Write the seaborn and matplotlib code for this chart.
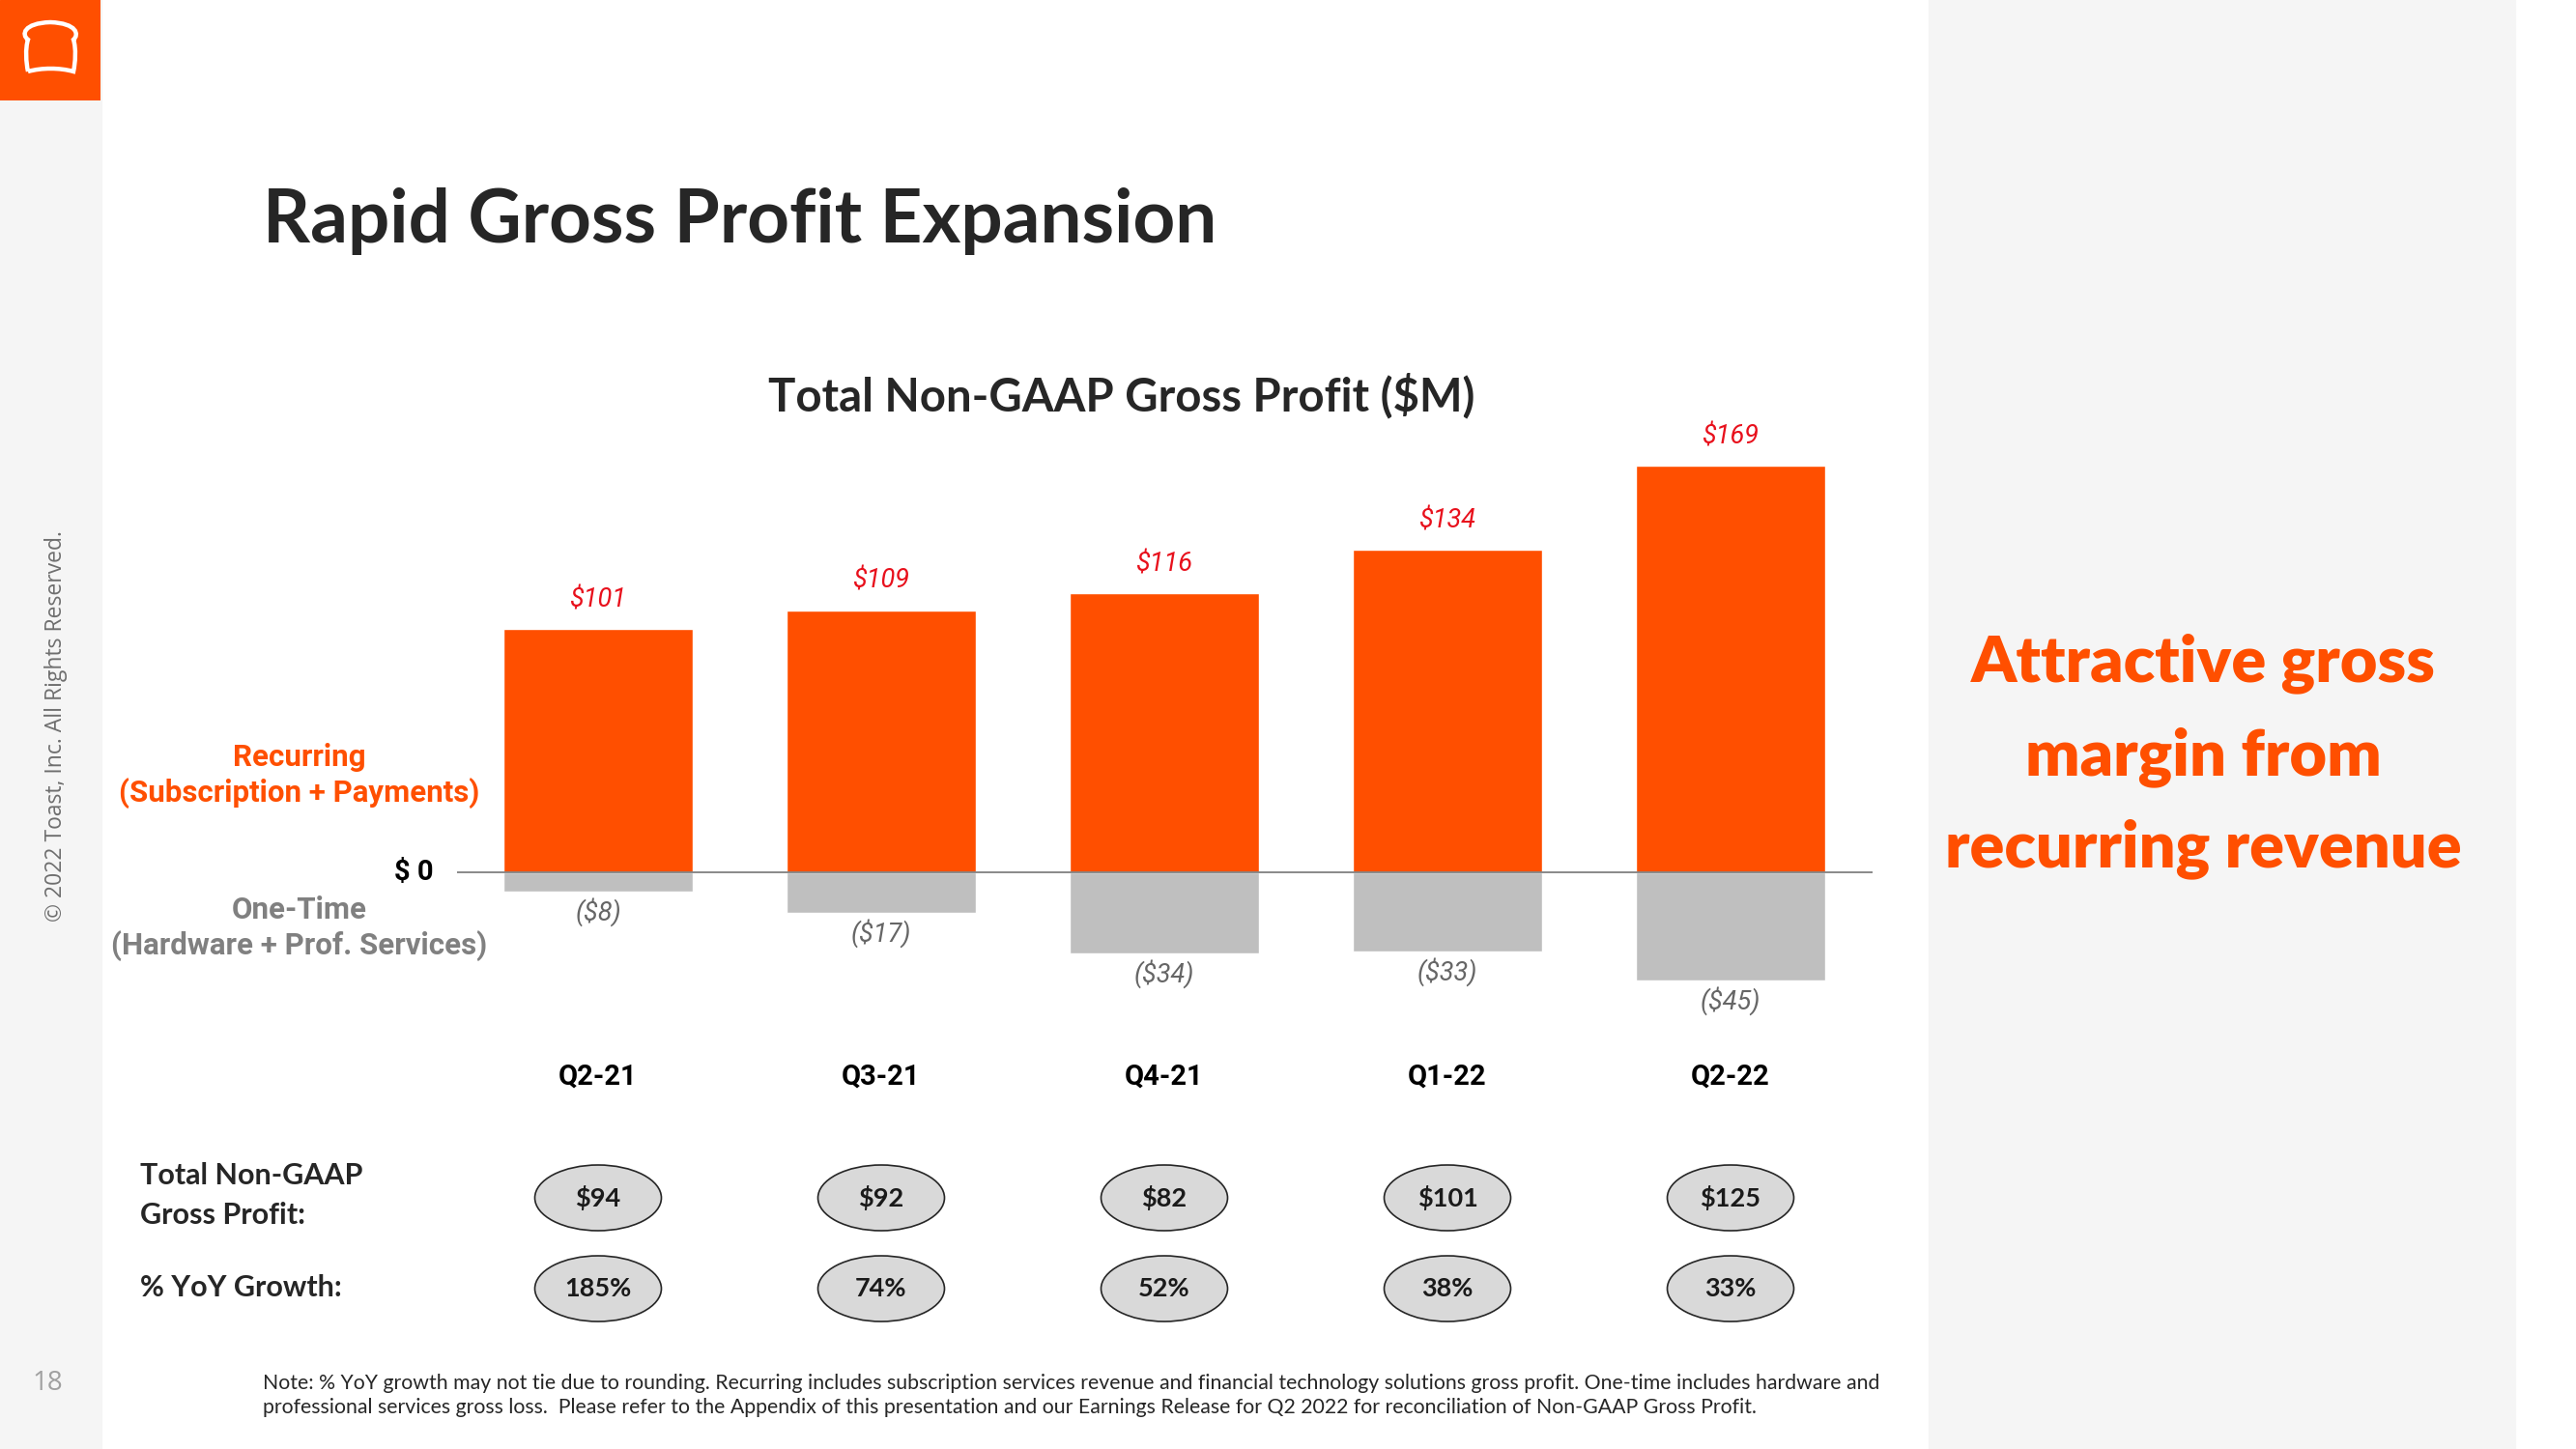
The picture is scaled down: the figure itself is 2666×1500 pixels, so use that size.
import matplotlib
matplotlib.use("Agg")
import matplotlib.pyplot as plt
import seaborn as sns
from matplotlib.patches import Rectangle, Ellipse, PathPatch
from matplotlib.path import Path

# data
quarters = ["Q2-21", "Q3-21", "Q4-21", "Q1-22", "Q2-22"]
recurring = [101, 109, 116, 134, 169]
one_time = [-8, -17, -34, -33, -45]
total_gp = [94, 92, 82, 101, 125]
yoy_growth = [185, 74, 52, 38, 33]

ORANGE = "#ff4f00"
GREY_BAR = "#bfbfbf"
RED = "#e8101c"
W, H = 2666, 1500

sns.set_theme(style="white")
plt.rcParams["font.family"] = ["Lato", "DejaVu Sans"]

fig = plt.figure(figsize=(W / 100, H / 100), dpi=100, facecolor="white")


def fx(x):
    return x / W


def fy(y):
    return 1 - y / H


def ft(x, y, s, **kw):
    fig.text(fx(x), fy(y), s, **kw)


# page background panels
fig.add_artist(Rectangle((0, 0), fx(105), 1, transform=fig.transFigure,
                         color="#f5f5f5", zorder=-1))
fig.add_artist(Rectangle((fx(1996), 0), fx(2603 - 1996), 1, transform=fig.transFigure,
                         color="#f5f5f5", zorder=-1))

# logo
ax_logo = fig.add_axes([0, fy(104), fx(104), 104 / H])
ax_logo.set_xlim(0, 104)
ax_logo.set_ylim(104, 0)
ax_logo.axis("off")
ax_logo.add_patch(Rectangle((0, 0), 104, 104, color=ORANGE))
verts = [(29, 74), (27, 65), (26, 50), (29, 41),
         (22, 36), (24, 24), (52, 23),
         (80, 24), (82, 36), (76, 41),
         (79, 50), (78, 65), (76, 74),
         (62, 70), (43, 70), (29, 74)]
codes = [Path.MOVETO] + [Path.CURVE4] * 15
ax_logo.add_patch(PathPatch(Path(verts, codes), fc="none", ec="white", lw=3.2))

# titles
ft(272, 229, "Rapid Gross Profit Expansion", fontsize=55, fontweight="bold",
   color="#262626", va="center", ha="left")
ft(1161, 410, "Total Non-GAAP Gross Profit ($M)", fontsize=34, fontweight="bold",
   color="#262626", va="center", ha="center")

# main bar chart
ax = fig.add_axes([fx(472.5), fy(1052), fx(1937.5 - 472.5), (1052 - 430) / H])
sns.barplot(x=quarters, y=recurring, color=ORANGE, saturation=1, width=0.667,
            errorbar=None, ax=ax)
sns.barplot(x=quarters, y=one_time, color=GREY_BAR, saturation=1, width=0.667,
            errorbar=None, ax=ax)
ax.set_xlim(-0.5, 4.5)
ax.set_ylim(-60, 190)
ax.axhline(0, color="#808080", lw=1.3, zorder=5)
ax.axis("off")

rob = ["Roboto", "DejaVu Sans"]
for i, v in enumerate(recurring):
    ax.text(i, v + 12, f"${v}", ha="center", va="center", fontsize=19.5,
            style="italic", color=RED, family=rob)
for i, v in enumerate(one_time):
    ax.text(i, v - 8.5, f"(${-v})", ha="center", va="center", fontsize=19.5,
            style="italic", color="#666666", family=rob)
for i, q in enumerate(quarters):
    ax.text(i, -85, q, ha="center", va="center", fontsize=21, fontweight="bold",
            color="black", family=rob, clip_on=False)
ax.text(-0.58, 0, "$ 0", ha="right", va="center", fontsize=21, fontweight="bold",
        color="black", family=rob)

# series labels on the left
ft(310, 784, "Recurring", fontsize=22.5, fontweight="bold", color=ORANGE,
   ha="center", va="center", family=rob)
ft(310, 821, "(Subscription + Payments)", fontsize=22.5, fontweight="bold", color=ORANGE,
   ha="center", va="center", family=rob)
ft(310, 942, "One-Time", fontsize=22.5, fontweight="bold", color="#808080",
   ha="center", va="center", family=rob)
ft(310, 979, "(Hardware + Prof. Services)", fontsize=22.5, fontweight="bold",
   color="#808080", ha="center", va="center", family=rob)

# table of totals and growth
ax_t = fig.add_axes([fx(472.5), fy(1390), fx(1937.5 - 472.5), 200 / H])
ax_t.set_xlim(-0.5, 4.5)
ax_t.set_ylim(1390, 1190)
ax_t.axis("off")
for i, (g, p) in enumerate(zip(total_gp, yoy_growth)):
    for yc, s in [(1240, f"${g}"), (1334, f"{p}%")]:
        ax_t.add_patch(Ellipse((i, yc), 0.447, 68, fc="#d9d9d9", ec="#262626", lw=1.2))
        ax_t.text(i, yc, s, ha="center", va="center", fontsize=19.5,
                  fontweight="bold", color="#1a1a1a")

ft(145, 1217, "Total Non-GAAP", fontsize=22, fontweight="bold", color="#262626",
   ha="left", va="center")
ft(145, 1258, "Gross Profit:", fontsize=22, fontweight="bold", color="#262626",
   ha="left", va="center")
ft(145, 1333, "% YoY Growth:", fontsize=22, fontweight="bold", color="#262626",
   ha="left", va="center")

# right-hand message
for y, line in [(687, "Attractive gross"), (784, "margin from"), (879, "recurring revenue")]:
    ft(2280, y, line, fontsize=48, fontweight="heavy", color=ORANGE,
       ha="center", va="center")

# side texts
ft(58, 752, "\u00a9 2022 Toast, Inc. All Rights Reserved.", fontsize=16.5, rotation=90,
   color="#6e6e6e", ha="center", va="center", family=["Open Sans", "DejaVu Sans"])
ft(49, 1432, "18", fontsize=20, color="#a0a0a0", ha="center", va="center",
   family=["Open Sans", "DejaVu Sans"])

# footnote
ft(272, 1432, "Note: % YoY growth may not tie due to rounding. Recurring includes subscription "
   "services revenue and financial technology solutions gross profit. One-time includes "
   "hardware and", fontsize=15.3, color="#262626", ha="left", va="center")
ft(272, 1457, "professional services gross loss.  Please refer to the Appendix of this "
   "presentation and our Earnings Release for Q2 2022 for reconciliation of Non-GAAP "
   "Gross Profit.", fontsize=15.3, color="#262626", ha="left", va="center")

fig.savefig("out.png", dpi=100, facecolor="white")
